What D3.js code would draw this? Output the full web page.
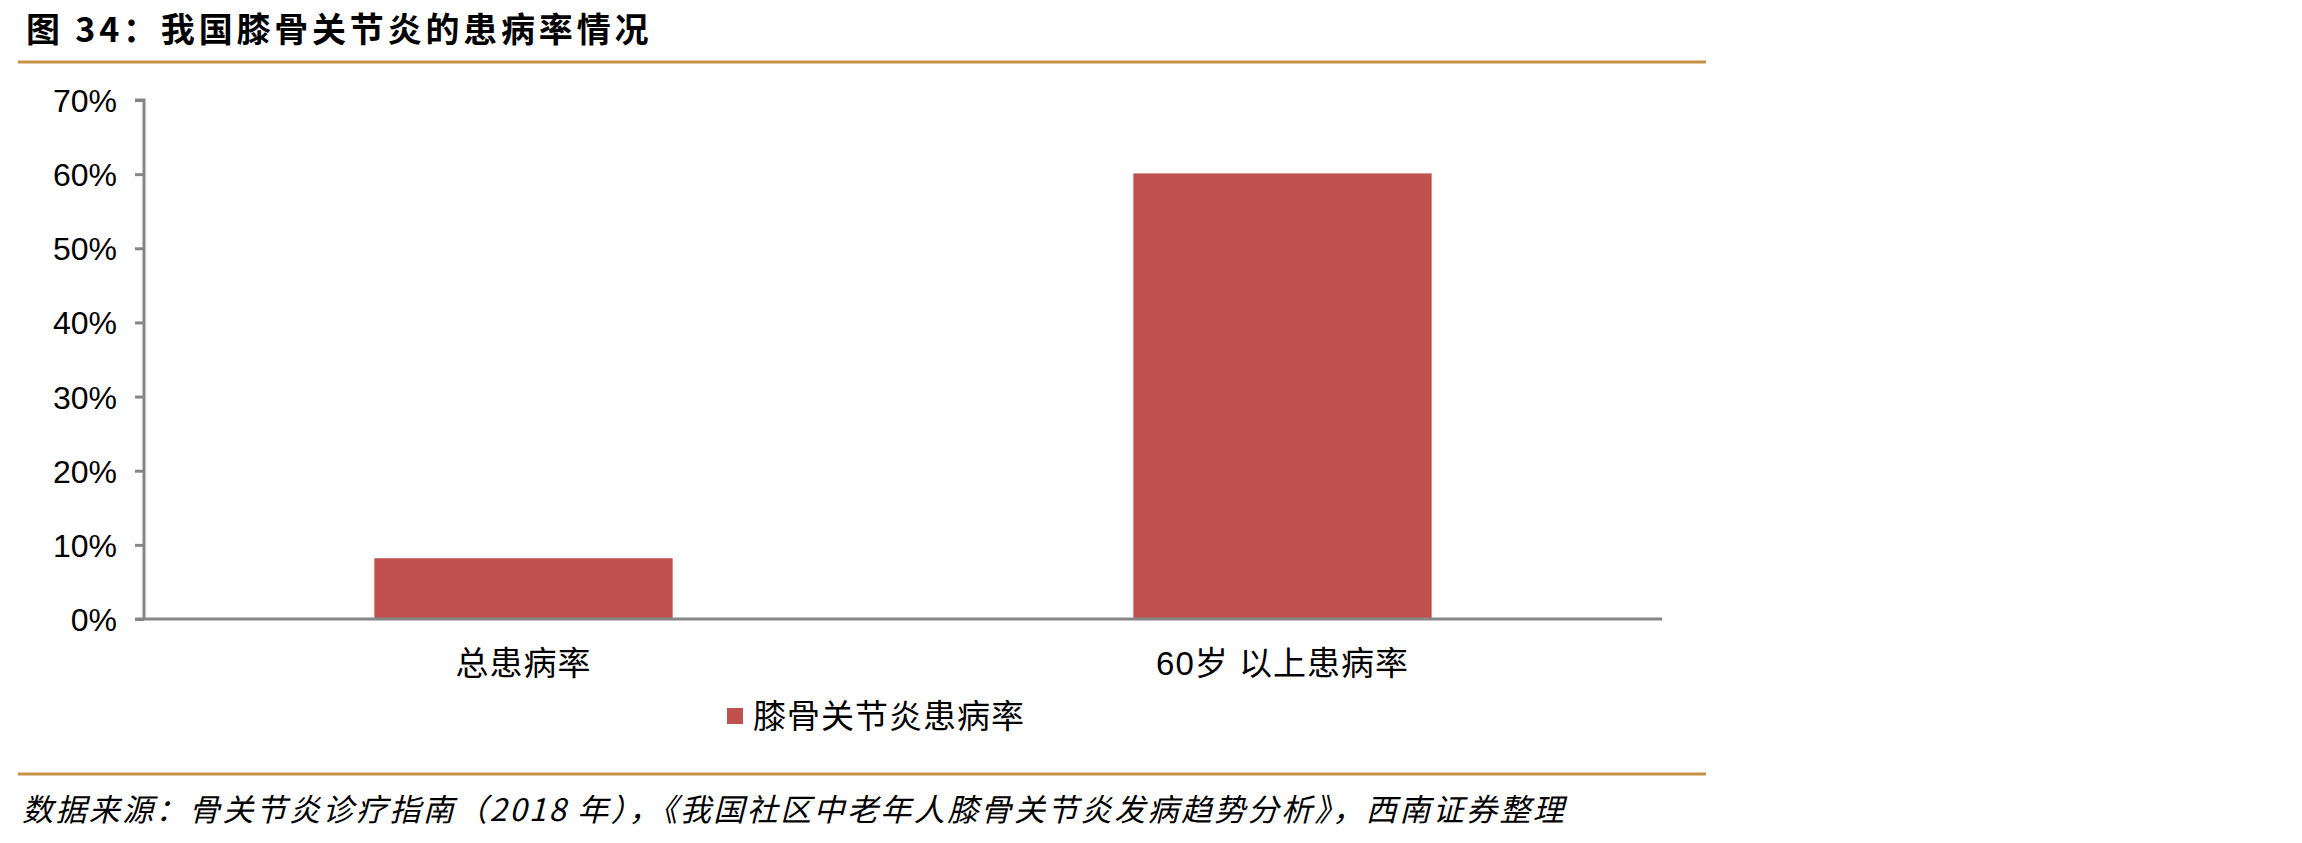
<!DOCTYPE html>
<html>
<head>
<meta charset="utf-8">
<script src="https://cdn.jsdelivr.net/npm/d3@7"></script>
<style>
  body { margin: 0; background: #fff; }
  svg { display: block; }
  .tick text { fill: #000; }
</style>
</head>
<body>
<div id="chart"></div>
<script>
// data
const categories = ["总患病率", "60岁 以上患病率"];
const values = [0.082, 0.601];
const seriesName = "膝骨关节炎患病率";
const yTicks = [0, 0.1, 0.2, 0.3, 0.4, 0.5, 0.6, 0.7];

const titleText = "图 34：我国膝骨关节炎的患病率情况";
const sourceText = "数据来源：骨关节炎诊疗指南（2018 年），《我国社区中老年人膝骨关节炎发病趋势分析》，西南证券整理";

const width = 2302, height = 843;
const barColor = "#C0504D";
const axisColor = "#868686";
const goldColor = "#C8914A";
const latin = "'Liberation Sans', Arial, 'Noto Sans CJK SC', sans-serif";
const cjk = "'Noto Sans CJK SC', sans-serif";

const margin = { left: 144, right: width - 1662, top: 100, bottom: height - 619 };

const svg = d3.select("#chart").append("svg")
    .attr("width", width)
    .attr("height", height);

// title + rules
svg.append("text")
    .attr("x", 26)
    .attr("y", 42)
    .attr("font-family", cjk)
    .attr("font-weight", "bold")
    .attr("font-size", 34)
    .attr("letter-spacing", 3.8)
    .text(titleText);

svg.append("line")
    .attr("x1", 18).attr("x2", 1706)
    .attr("y1", 62).attr("y2", 62)
    .attr("stroke", goldColor).attr("stroke-width", 3);

svg.append("line")
    .attr("x1", 18).attr("x2", 1706)
    .attr("y1", 774).attr("y2", 774)
    .attr("stroke", goldColor).attr("stroke-width", 3);

svg.append("text")
    .attr("x", 22)
    .attr("y", 821)
    .attr("font-family", cjk)
    .attr("font-style", "italic")
    .attr("font-size", 31)
    .attr("letter-spacing", 2.4)
    .text(sourceText);

// scales
const x = d3.scaleBand()
    .domain(categories)
    .range([margin.left, width - margin.right])
    .paddingInner(0.607)
    .paddingOuter(0.3035);

const y = d3.scaleLinear()
    .domain([0, 0.7])
    .range([height - margin.bottom, margin.top]);

// y axis
const yAxis = svg.append("g")
    .attr("transform", `translate(${margin.left},0)`)
    .call(d3.axisLeft(y)
        .tickValues(yTicks)
        .tickSize(9)
        .tickPadding(18)
        .tickFormat(d3.format(".0%")));

yAxis.select(".domain").attr("stroke", axisColor).attr("stroke-width", 3)
    .attr("d", `M-9,${y(0.7)}H0V${y(0)}`);
yAxis.selectAll(".tick line").attr("stroke", axisColor).attr("stroke-width", 3);
yAxis.selectAll(".tick text")
    .attr("font-family", latin)
    .attr("font-size", 32)
    .attr("dy", "0.36em");

// bars
svg.append("g").selectAll("rect")
    .data(values)
    .enter().append("rect")
    .attr("x", (d, i) => x(categories[i]))
    .attr("width", x.bandwidth())
    .attr("y", d => y(d))
    .attr("height", d => y(0) - y(d))
    .attr("fill", barColor);

// x axis
const xAxis = svg.append("g")
    .attr("transform", `translate(0,${y(0)})`)
    .call(d3.axisBottom(x).tickSize(0).tickPadding(0));

xAxis.select(".domain").attr("stroke", axisColor).attr("stroke-width", 3)
    .attr("d", `M${margin.left - 9},0H${width - margin.right}`);
xAxis.selectAll(".tick text")
    .attr("font-family", latin)
    .attr("font-size", 33)
    .attr("letter-spacing", 1)
    .attr("dy", 0)
    .attr("y", 56);

// legend
const legend = svg.append("g").attr("transform", "translate(727,708)");
legend.append("rect")
    .attr("width", 16).attr("height", 16)
    .attr("fill", barColor);
legend.append("text")
    .attr("x", 26)
    .attr("y", 20)
    .attr("font-family", cjk)
    .attr("font-size", 33)
    .attr("letter-spacing", 1)
    .text(seriesName);
</script>
</body>
</html>
